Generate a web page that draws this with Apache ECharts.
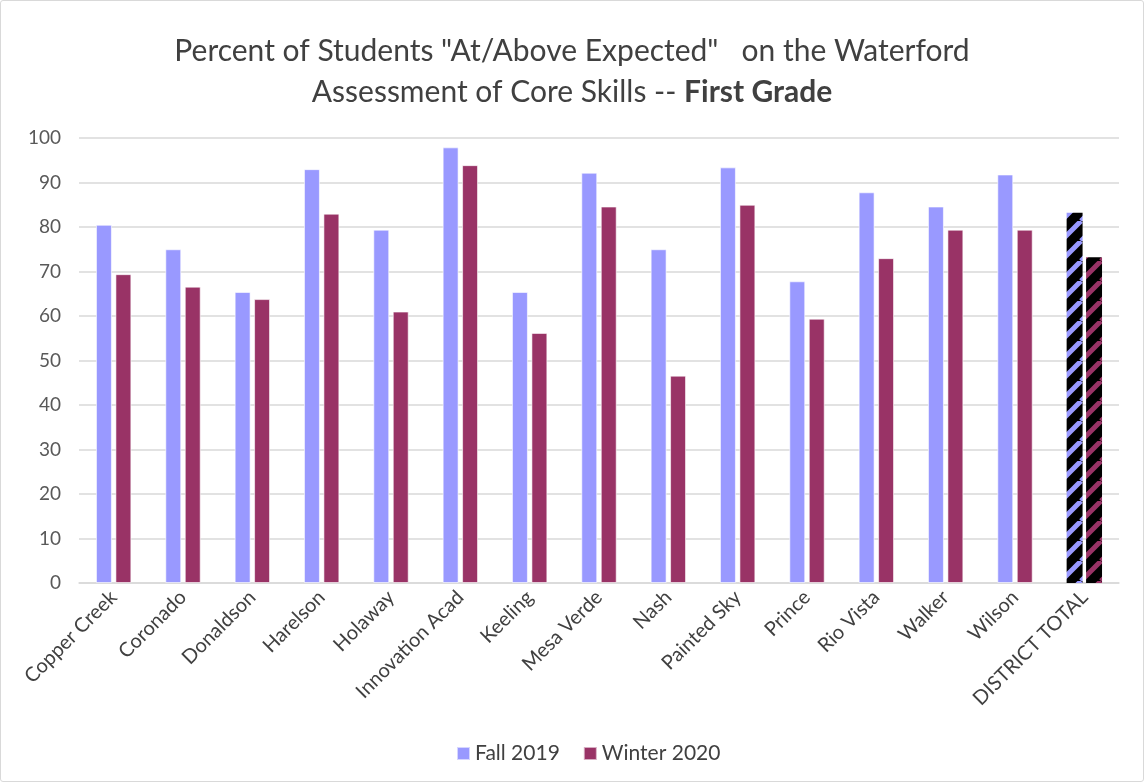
<!DOCTYPE html>
<html>
<head>
<meta charset="utf-8">
<script src="https://cdn.jsdelivr.net/npm/echarts@6/dist/echarts.min.js"></script>
<style>
html,body{margin:0;padding:0;background:#fff;}
#c{width:1142px;height:780px;border:1px solid #d9d9d9;border-radius:3px;}
</style>
</head>
<body>
<div id="c"></div>
<script>
const categories = ["Copper Creek","Coronado","Donaldson","Harelson","Holaway","Innovation Acad","Keeling","Mesa Verde","Nash","Painted Sky","Prince","Rio Vista","Walker","Wilson","DISTRICT TOTAL"];
const fall2019 = [80.5,75.0,65.4,93.0,79.4,97.9,65.4,92.2,75.0,93.4,67.8,87.8,84.6,91.8,83.2];
const winter2020 = [69.4,66.6,63.8,83.0,61.0,93.9,56.2,84.6,46.6,85.0,59.4,73.0,79.4,79.4,73.2];
const yTicks = [0,10,20,30,40,50,60,70,80,90,100];
const seriesNames = ["Fall 2019","Winter 2020"];
const colors = ["#9999FF","#993366"];

function stripe(color){
  const n = 20;
  const cv = document.createElement('canvas');
  cv.width = n; cv.height = n;
  const ctx = cv.getContext('2d');
  ctx.fillStyle = '#000'; ctx.fillRect(0,0,n,n);
  ctx.strokeStyle = color; ctx.lineWidth = 5;
  ctx.beginPath();
  for (let k=-1;k<=1;k++){
    ctx.moveTo(k*n, n); ctx.lineTo(k*n+n, 0);
  }
  ctx.stroke();
  return {image: cv, repeat: 'repeat'};
}

function build(vals, idx){
  return vals.map((v,i)=> i===vals.length-1
    ? {value:v, itemStyle:{color: stripe(colors[idx]), borderWidth:0}}
    : v);
}

const chart = echarts.init(document.getElementById('c'));
chart.setOption({
  animation:false,
  title:{
    text:'Percent of Students "At/Above Expected"   on the Waterford\nAssessment of Core Skills -- {b|First Grade}',
    left:'center', top:25,
    textStyle:{fontFamily:'Lato', fontSize:30, fontWeight:'normal', color:'#404040', lineHeight:41,
      rich:{b:{fontFamily:'Lato', fontSize:30, fontWeight:'bold', color:'#404040'}}}
  },
  legend:{
    bottom:12, left:450, itemWidth:13, itemHeight:13, itemGap:23,
    icon:'rect',
    textStyle:{fontFamily:'Lato', fontSize:21, color:'#404040'},
    data:seriesNames.map((n,i)=>({name:n, itemStyle:{color:colors[i]}}))
  },
  grid:{left:78, right:24, top:137, bottom:198, containLabel:false},
  xAxis:{
    type:'category', data:categories,
    axisLine:{lineStyle:{color:'#d9d9d9', width:1.5}},
    axisTick:{show:false},
    axisLabel:{rotate:45, interval:0, fontFamily:'Lato', fontSize:20, color:'#404040', margin:11}
  },
  yAxis:{
    type:'value', min:yTicks[0], max:yTicks[yTicks.length-1], interval:10,
    axisLine:{show:false}, axisTick:{show:false},
    splitLine:{lineStyle:{color:'#d9d9d9', width:1.5}},
    axisLabel:{fontFamily:'Lato', fontSize:19, color:'#595959', margin:18}
  },
  series:[
    {name:seriesNames[0], type:'bar', data:build(fall2019,0), barWidth:'23%', barGap:'22%',
      itemStyle:{color:colors[0], borderColor:'rgba(255,255,255,0.6)', borderWidth:1}},
    {name:seriesNames[1], type:'bar', data:build(winter2020,1), barWidth:'23%', barGap:'22%',
      itemStyle:{color:colors[1], borderColor:'rgba(255,255,255,0.6)', borderWidth:1}}
  ]
});
</script>
</body>
</html>
